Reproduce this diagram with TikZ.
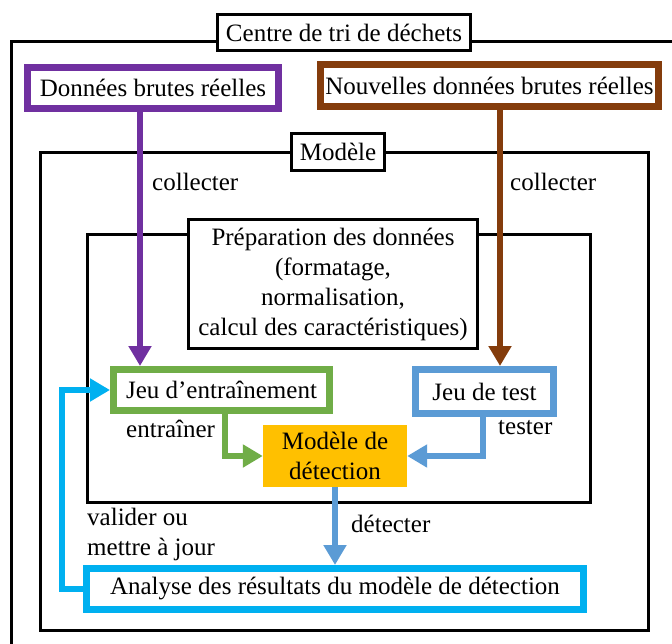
\documentclass[tikz,border=0pt]{standalone}
\usepackage{fontspec}
\setmainfont{Liberation Serif}
\usetikzlibrary{arrows.meta}

\definecolor{rawpurple}{HTML}{7030A0}
\definecolor{rawbrown}{HTML}{843C0C}
\definecolor{traingreen}{HTML}{70AD47}
\definecolor{testblue}{HTML}{5B9BD5}
\definecolor{modelorange}{HTML}{FFC000}
\definecolor{analysecyan}{HTML}{00B0F0}

\begin{document}
\begin{tikzpicture}[x=1pt,y=-1pt,font=\fontsize{25}{30}\selectfont,
    frame/.style={draw,line width=3pt},
    title/.style={draw,fill=white,line width=3pt,inner sep=0pt},
    box/.style={draw=#1,fill=white,line width=7pt,inner sep=0pt},
    flow/.style={draw=#1,line width=6pt,-{Triangle[length=20pt,width=22pt]}},
    lbl/.style={anchor=base west,inner sep=0pt,align=left}]
      \clip (0,0) rectangle (672,644);

      \draw[frame] (11,41.5) rectangle (700,700);
      \node[title,minimum width=253pt,minimum height=36pt] (centre) at (344,32.5) {Centre de tri de déchets};
      \draw[frame] (40.5,153) rectangle (648,630);
      \node[title,minimum width=93pt,minimum height=37pt] (modele) at (338,152) {Modèle};
      \draw[frame] (87,235) rectangle (590.5,502);
      \node[title,align=center,minimum width=289pt,minimum height=129pt] (prep) at (333,284)
        {Préparation des données\\(formatage,\\normalisation,\\calcul des caractéristiques)};

      \node[box=rawpurple,minimum width=251pt,minimum height=41pt] (raw) at (153,88) {Données brutes réelles};
      \node[box=rawbrown,minimum width=338pt,minimum height=42pt] (newraw) at (489.5,85.5) {Nouvelles données brutes réelles};
      \node[box=traingreen,minimum width=216pt,minimum height=41pt] (train) at (221.5,390) {Jeu d’entraînement};
      \node[box=testblue,minimum width=138pt,minimum height=44pt] (test) at (484.5,391.5) {Jeu de test};
      \node[fill=modelorange,align=center,inner sep=0pt,minimum width=144pt,minimum height=62pt] (detect) at (335,456)
        {Modèle de\\détection};
      \node[box=analysecyan,minimum width=497pt,minimum height=41pt] (analyse) at (335,589)
        {Analyse des résultats du modèle de détection};

      \path
      ([xshift=-13pt]raw.south) edge [flow=rawpurple] ([xshift=-13pt]raw.south |- train.north)
      ([xshift=10.5pt]newraw.south) edge [flow=rawbrown] ([xshift=10.5pt]newraw.south |- test.north)
      (detect.south) edge [flow=testblue] (analyse.north)
      ;
      \draw[flow=traingreen] ([xshift=3.5pt]train.south) |- (detect.west);
      \draw[flow=testblue] ([xshift=-1.5pt]test.south) |- (detect.east);
      \draw[flow=analysecyan] (analyse.west) -- ++(-21.5,0) |- (train.west);

      \node[lbl] (collect1) at (152,191) {collecter};
      \node[lbl] (collect2) at (510,191) {collecter};
      \node[lbl] (trainlbl) at (126,437) {entraîner};
      \node[lbl] (testlbl) at (498,434) {tester};
      \node[lbl] (detectlbl) at (351,532) {détecter};
      \node[lbl] (updatelbl) at (87,555) {valider ou\\mettre à jour};
    \end{tikzpicture}
\end{document}
